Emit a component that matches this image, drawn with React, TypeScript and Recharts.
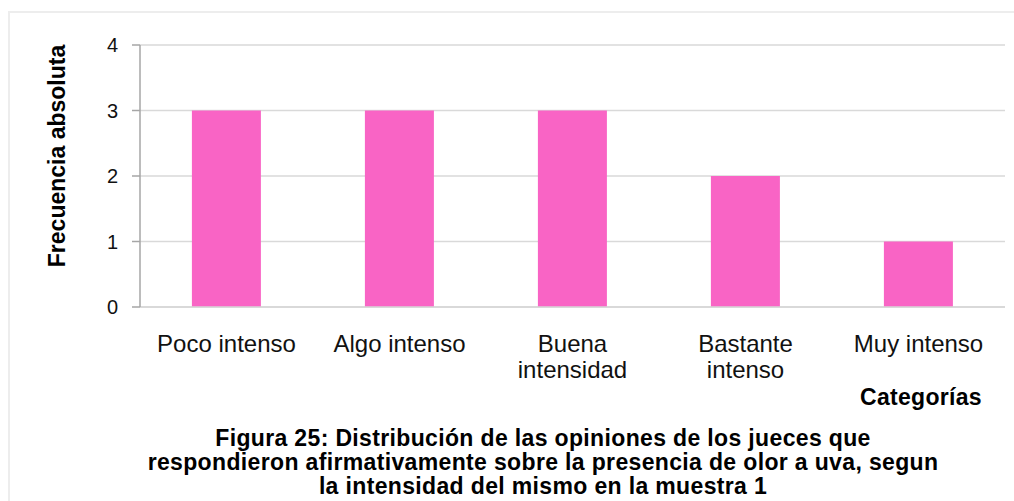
import { BarChart, Bar, XAxis, YAxis, CartesianGrid } from "recharts";

const CATEGORIES = ["Poco intenso", "Algo intenso", "Buena intensidad", "Bastante intenso", "Muy intenso"];
const FREQUENCIES = [3, 3, 3, 2, 1];
const Y_TICKS = [0, 1, 2, 3, 4];
const TITLE_LINES = [
  "Figura 25: Distribución de las opiniones de los jueces que",
  "respondieron afirmativamente sobre la presencia de olor a uva, segun",
  "la intensidad del mismo en la muestra 1",
];

const FONT = '"Liberation Sans", Arial, sans-serif';

const data = CATEGORIES.map((name, i) => ({ name, value: FREQUENCIES[i] }));

// long labels break onto two lines, like the original
function splitLabel(label: string): string[] {
  if (label.length <= 13) return [label];
  const i = label.indexOf(" ");
  return [label.slice(0, i), label.slice(i + 1)];
}

function CategoryTick({ x, y, payload }: any) {
  const lines = splitLabel(String(payload.value));
  return (
    <text x={x} y={y + 45} textAnchor="middle" fontSize={24} fontFamily={FONT} fill="#111">
      {lines.map((line, i) => (
        <tspan key={line} x={x} dy={i === 0 ? 0 : 26}>
          {line}
        </tspan>
      ))}
    </text>
  );
}

function ValueTick({ x, y, payload }: any) {
  return (
    <text x={x} y={y + 7} textAnchor="end" fontSize={20} fontFamily={FONT} fill="#111">
      {payload.value}
    </text>
  );
}

function YLabel({ viewBox }: any) {
  const x = viewBox.x - 15;
  const y = viewBox.y + viewBox.height / 2 - 20;
  return (
    <text
      x={x}
      y={y}
      transform={`rotate(-90, ${x}, ${y})`}
      textAnchor="middle"
      fontFamily={FONT}
      fontWeight="bold"
      fontSize={23}
      fill="#000"
    >
      Frecuencia absoluta
    </text>
  );
}

function XLabel({ viewBox }: any) {
  return (
    <text
      x={viewBox.x + viewBox.width - 84}
      y={viewBox.y + 98}
      textAnchor="middle"
      fontFamily={FONT}
      fontWeight="bold"
      fontSize={23}
      letterSpacing={0.3}
      fill="#000"
    >
      Categorías
    </text>
  );
}

export default function App() {
  return (
    <div style={{ position: "absolute", left: 0, top: 0, width: 1014, height: 501, background: "#fff", overflow: "hidden" }}>
      <div
        style={{
          position: "absolute",
          left: 8,
          top: 11,
          width: 1020,
          height: 520,
          borderTop: "2px solid #EDEDED",
          borderLeft: "2px solid #EDEDED",
        }}
      />
      <div style={{ position: "absolute", left: 0, top: 0 }}>
        <BarChart
          width={1014}
          height={501}
          data={data}
          margin={{ top: 45, right: 9, bottom: 134, left: 80 }}
          barCategoryGap="30%"
        >
          <CartesianGrid vertical={false} stroke="#D9D9D9" strokeWidth={1.5} />
          <XAxis
            dataKey="name"
            height={60}
            interval={0}
            tickLine={false}
            tickSize={0}
            tickMargin={0}
            axisLine={{ stroke: "#D6D6D6", strokeWidth: 1.5 }}
            tick={<CategoryTick />}
            label={<XLabel />}
          />
          <YAxis
            width={60}
            domain={[0, 4]}
            ticks={Y_TICKS}
            interval={0}
            tickSize={8}
            tickMargin={14}
            axisLine={{ stroke: "#A6A6A6", strokeWidth: 1.5 }}
            tickLine={{ stroke: "#A6A6A6", strokeWidth: 1.5 }}
            tick={<ValueTick />}
            label={<YLabel />}
          />
          <Bar dataKey="value" fill="#F964C5" isAnimationActive={false} />
        </BarChart>
      </div>
      <div
        style={{
          position: "absolute",
          left: 0,
          top: 426,
          width: 1086,
          textAlign: "center",
          fontFamily: FONT,
          fontWeight: "bold",
          fontSize: 23,
          letterSpacing: "0.35px",
          lineHeight: "24px",
          color: "#000",
        }}
      >
        {TITLE_LINES.map((line) => (
          <div key={line}>{line}</div>
        ))}
      </div>
    </div>
  );
}
